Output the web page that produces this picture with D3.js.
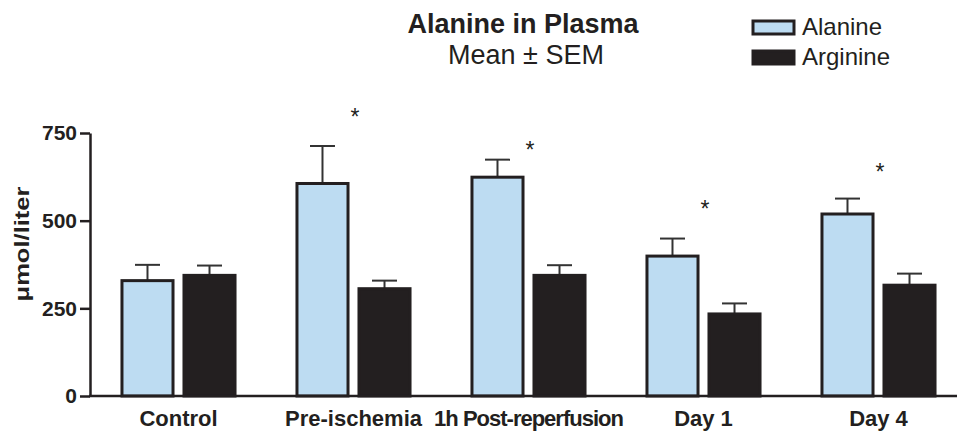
<!DOCTYPE html>
<html><head><meta charset="utf-8">
<script src="https://cdn.jsdelivr.net/npm/d3@7"></script>
<style>
html,body{margin:0;padding:0;background:#fff;}
svg{display:block;font-family:"Liberation Sans",Arial,Helvetica,sans-serif;}
</style>
</head><body>
<svg id="chart" width="957" height="431"></svg>
<script>
const categories = ["Control", "Pre-ischemia", "1h Post-reperfusion", "Day 1", "Day 4"];
const seriesNames = ["Alanine", "Arginine"];
const alanine = [329, 606, 624, 399, 519];
const alanineSEM = [45, 107, 50, 50, 44];
const arginine = [344, 306, 344, 234, 316];
const arginineSEM = [28, 23, 29, 30, 33];
const starValues = [null, 800, 708, 538, 645];
const yTicks = [0, 250, 500, 750];
const title = "Alanine in Plasma";
const subtitle = "Mean \u00B1 SEM";
const yLabel = "\u03BCmol/liter";

const colors = {Alanine: "#bddcf2", Arginine: "#231f20"};
const ink = "#231f20";
const font = "'Liberation Sans',Arial,Helvetica,sans-serif";

const svg = d3.select("#chart");

const x0 = d3.scaleBand().domain(categories).range([91, 966]).paddingInner(0.354).paddingOuter(0.177);
const x1 = d3.scaleBand().domain(seriesNames).range([0, x0.bandwidth()]).paddingInner(0.177).paddingOuter(0);
const y = d3.scaleLinear().domain([0, 750]).range([396, 133]);

const values = {Alanine: alanine, Arginine: arginine};
const sems = {Alanine: alanineSEM, Arginine: arginineSEM};

const rows = [];
categories.forEach((c, i) => {
  seriesNames.forEach(s => rows.push({cat: c, series: s, v: values[s][i], e: sems[s][i]}));
});

// Error bars (behind bars)
const eb = svg.append("g").attr("stroke", "#333").attr("stroke-width", 2).attr("fill", "none");
rows.forEach(d => {
  const cx = x0(d.cat) + x1(d.series) + x1.bandwidth() / 2;
  eb.append("line").attr("x1", cx).attr("x2", cx).attr("y1", y(d.v)).attr("y2", y(d.v + d.e));
  eb.append("line").attr("x1", cx - 12.5).attr("x2", cx + 12.5).attr("y1", y(d.v + d.e)).attr("y2", y(d.v + d.e));
});

// Bars
svg.append("g").selectAll("rect").data(rows).join("rect")
  .attr("x", d => x0(d.cat) + x1(d.series))
  .attr("y", d => y(d.v))
  .attr("width", x1.bandwidth())
  .attr("height", d => y(0) - y(d.v))
  .attr("fill", d => colors[d.series])
  .attr("stroke", ink)
  .attr("stroke-width", 3);

// Stars
svg.append("g").selectAll("text").data(categories.map((c, i) => ({cat: c, v: starValues[i]})).filter(d => d.v != null))
  .join("text")
  .attr("x", d => x0(d.cat) + x1("Arginine") - 4)
  .attr("y", d => y(d.v) + 10)
  .attr("text-anchor", "middle")
  .attr("font-size", 23)
  .attr("fill", ink)
  .text("*");

// Y axis
const yAxis = d3.axisLeft(y).tickValues(yTicks).tickSize(10).tickPadding(3).tickSizeOuter(0);
const gy = svg.append("g").attr("transform", "translate(90,0)").call(yAxis);
gy.select(".domain").attr("stroke", ink).attr("stroke-width", 2.5);
gy.selectAll(".tick line").attr("stroke", ink).attr("stroke-width", 2.5);
gy.selectAll(".tick text").attr("font-size", 21).attr("font-weight", "bold").attr("fill", ink)
  .attr("font-family", font);

// X axis
const xAxis = d3.axisBottom(x0).tickSize(0).tickPadding(14).tickSizeOuter(0);
const gx = svg.append("g").attr("transform", "translate(0,396)").call(xAxis);
gx.select(".domain").attr("d", "M89,0H957").attr("stroke", ink).attr("stroke-width", 2.5);
gx.selectAll(".tick text").attr("font-size", 22).attr("font-weight", "bold").attr("fill", ink)
  .attr("font-family", font)
  .attr("letter-spacing", d => d === "1h Post-reperfusion" ? -1 : 0);

// Y label
svg.append("text")
  .attr("transform", "translate(29,244) rotate(-90)")
  .attr("text-anchor", "middle")
  .attr("font-size", 21).attr("font-weight", "bold").attr("fill", ink)
  .attr("textLength", 115).attr("lengthAdjust", "spacingAndGlyphs")
  .text(yLabel);

// Title
svg.append("text").attr("x", 523).attr("y", 33).attr("text-anchor", "middle")
  .attr("font-size", 27).attr("font-weight", "bold").attr("fill", ink).text(title);
svg.append("text").attr("x", 526).attr("y", 64).attr("text-anchor", "middle")
  .attr("font-size", 27).attr("fill", ink).text(subtitle);

// Legend
const lg = svg.append("g");
seriesNames.forEach((s, i) => {
  const yy = 21 + i * 30;
  lg.append("rect").attr("x", 753).attr("y", yy).attr("width", 41).attr("height", 13)
    .attr("fill", colors[s]).attr("stroke", ink).attr("stroke-width", 3);
  lg.append("text").attr("x", 802).attr("y", yy + 13.5).attr("font-size", 24).attr("fill", ink).text(s);
});
</script>
</body></html>
